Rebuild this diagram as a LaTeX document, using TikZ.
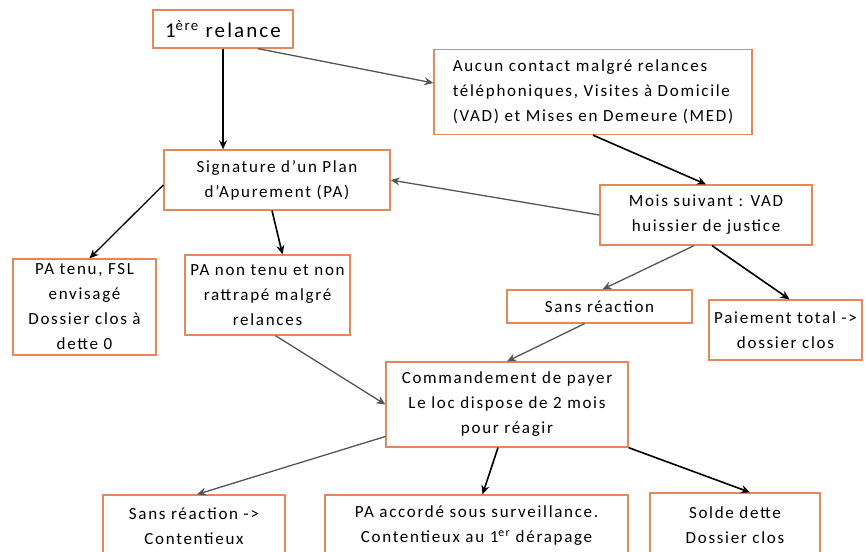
\documentclass[tikz,border=0pt]{standalone}
\usepackage{fontspec}
\setmainfont{Carlito}[LetterSpace=10]
\usetikzlibrary{arrows.meta}
\definecolor{boxorange}{RGB}{230,135,90}
\definecolor{arrowgray}{RGB}{85,85,85}
\tikzset{%
    etape/.style={draw=boxorange, line width=1.3pt, fill=white, align=center, inner sep=2pt, font=\fontsize{17}{25}\selectfont},
    fleche/.style={-{Stealth[length=9pt,width=8pt]}, line width=1.6pt, black},
    flechegris/.style={-{Stealth[length=9pt,width=8pt]}, line width=1.3pt, arrowgray},
}

\begin{document}
\begin{tikzpicture}[x=1pt,y=-1pt]
    \useasboundingbox (0,0) rectangle (866,551);
    \clip (0,0) rectangle (866,551);

    % top row
    \node[etape, minimum width=140pt, minimum height=38pt, font=\fontsize{21}{26}\selectfont] (relance) at (223,29) {1\textsuperscript{ère} relance};
    \node[etape, align=left, minimum width=318pt, minimum height=85pt] (aucun) at (593,92) {Aucun contact malgré relances\\téléphoniques, Visites à Domicile\\(VAD) et Mises en Demeure (MED)};
    % second row
    \node[etape, minimum width=226pt, minimum height=60pt] (signature) at (277,180) {Signature d'un Plan\\d'Apurement (PA)};
    \node[etape, minimum width=212pt, minimum height=60pt] (mois) at (706,215) {Mois suivant : VAD\\huissier de justice};
    % third row
    \node[etape, minimum width=143pt, minimum height=96pt] (tenu) at (84.5,307) {PA tenu, FSL\\envisagé\\Dossier clos à\\dette 0};
    \node[etape, minimum width=165pt, minimum height=80pt] (nontenu) at (267.5,295) {PA non tenu et non\\rattrapé malgré\\relances};
    \node[etape, minimum width=185pt, minimum height=33pt] (sansreac) at (599.5,306.5) {Sans réaction};
    \node[etape, minimum width=153pt, minimum height=60pt] (paiement) at (785.5,330) {Paiement total ->\\dossier clos};
    % commandement
    \node[etape, minimum width=242pt, minimum height=85pt] (commandement) at (507,404.5) {Commandement de payer\\Le loc dispose de 2 mois\\pour réagir};
    % bottom row
    \node[etape, minimum width=182pt, minimum height=62pt] (contentieux) at (194,526) {Sans réaction ->\\Contentieux};
    \node[etape, minimum width=303pt, minimum height=62pt] (accorde) at (476.5,526) {PA accordé sous surveillance.\\Contentieux au 1\textsuperscript{er} dérapage};
    \node[etape, minimum width=170pt, minimum height=64pt] (solde) at (735,525) {Solde dette\\Dossier clos};

    % arrows
    \draw[fleche] (relance.south) -- (relance.south |- signature.north);
    \draw[flechegris] ([xshift=35pt]relance.south) -- ([yshift=9pt]aucun.west);
    \draw[fleche] (aucun.south) -- (mois.north);
    \draw[flechegris] (mois.west) -- (signature.east);
    \draw[fleche, line width=1.3pt] ([yshift=-5pt]signature.west) -- ([xshift=5pt]tenu.north);
    \draw[fleche] ([xshift=-5pt]signature.south) -- ([xshift=15pt]nontenu.north);
    \draw[flechegris] ([xshift=-12pt]mois.south) -- ([xshift=3pt]sansreac.north);
    \draw[fleche] ([xshift=6pt]mois.south) -- ([xshift=4pt]paiement.north);
    \draw[flechegris] ([xshift=-15pt]sansreac.south) -- (commandement.north);
    \draw[flechegris] ([xshift=8pt]nontenu.south) -- (commandement.west);
    \draw[flechegris] ([yshift=-32pt]commandement.west) -- ([xshift=3pt]contentieux.north);
    \draw[fleche] ([xshift=-9pt]commandement.south) -- ([xshift=6pt]accorde.north);
    \draw[fleche] (commandement.south east) -- ([xshift=15pt]solde.north);

\end{tikzpicture}
\end{document}
